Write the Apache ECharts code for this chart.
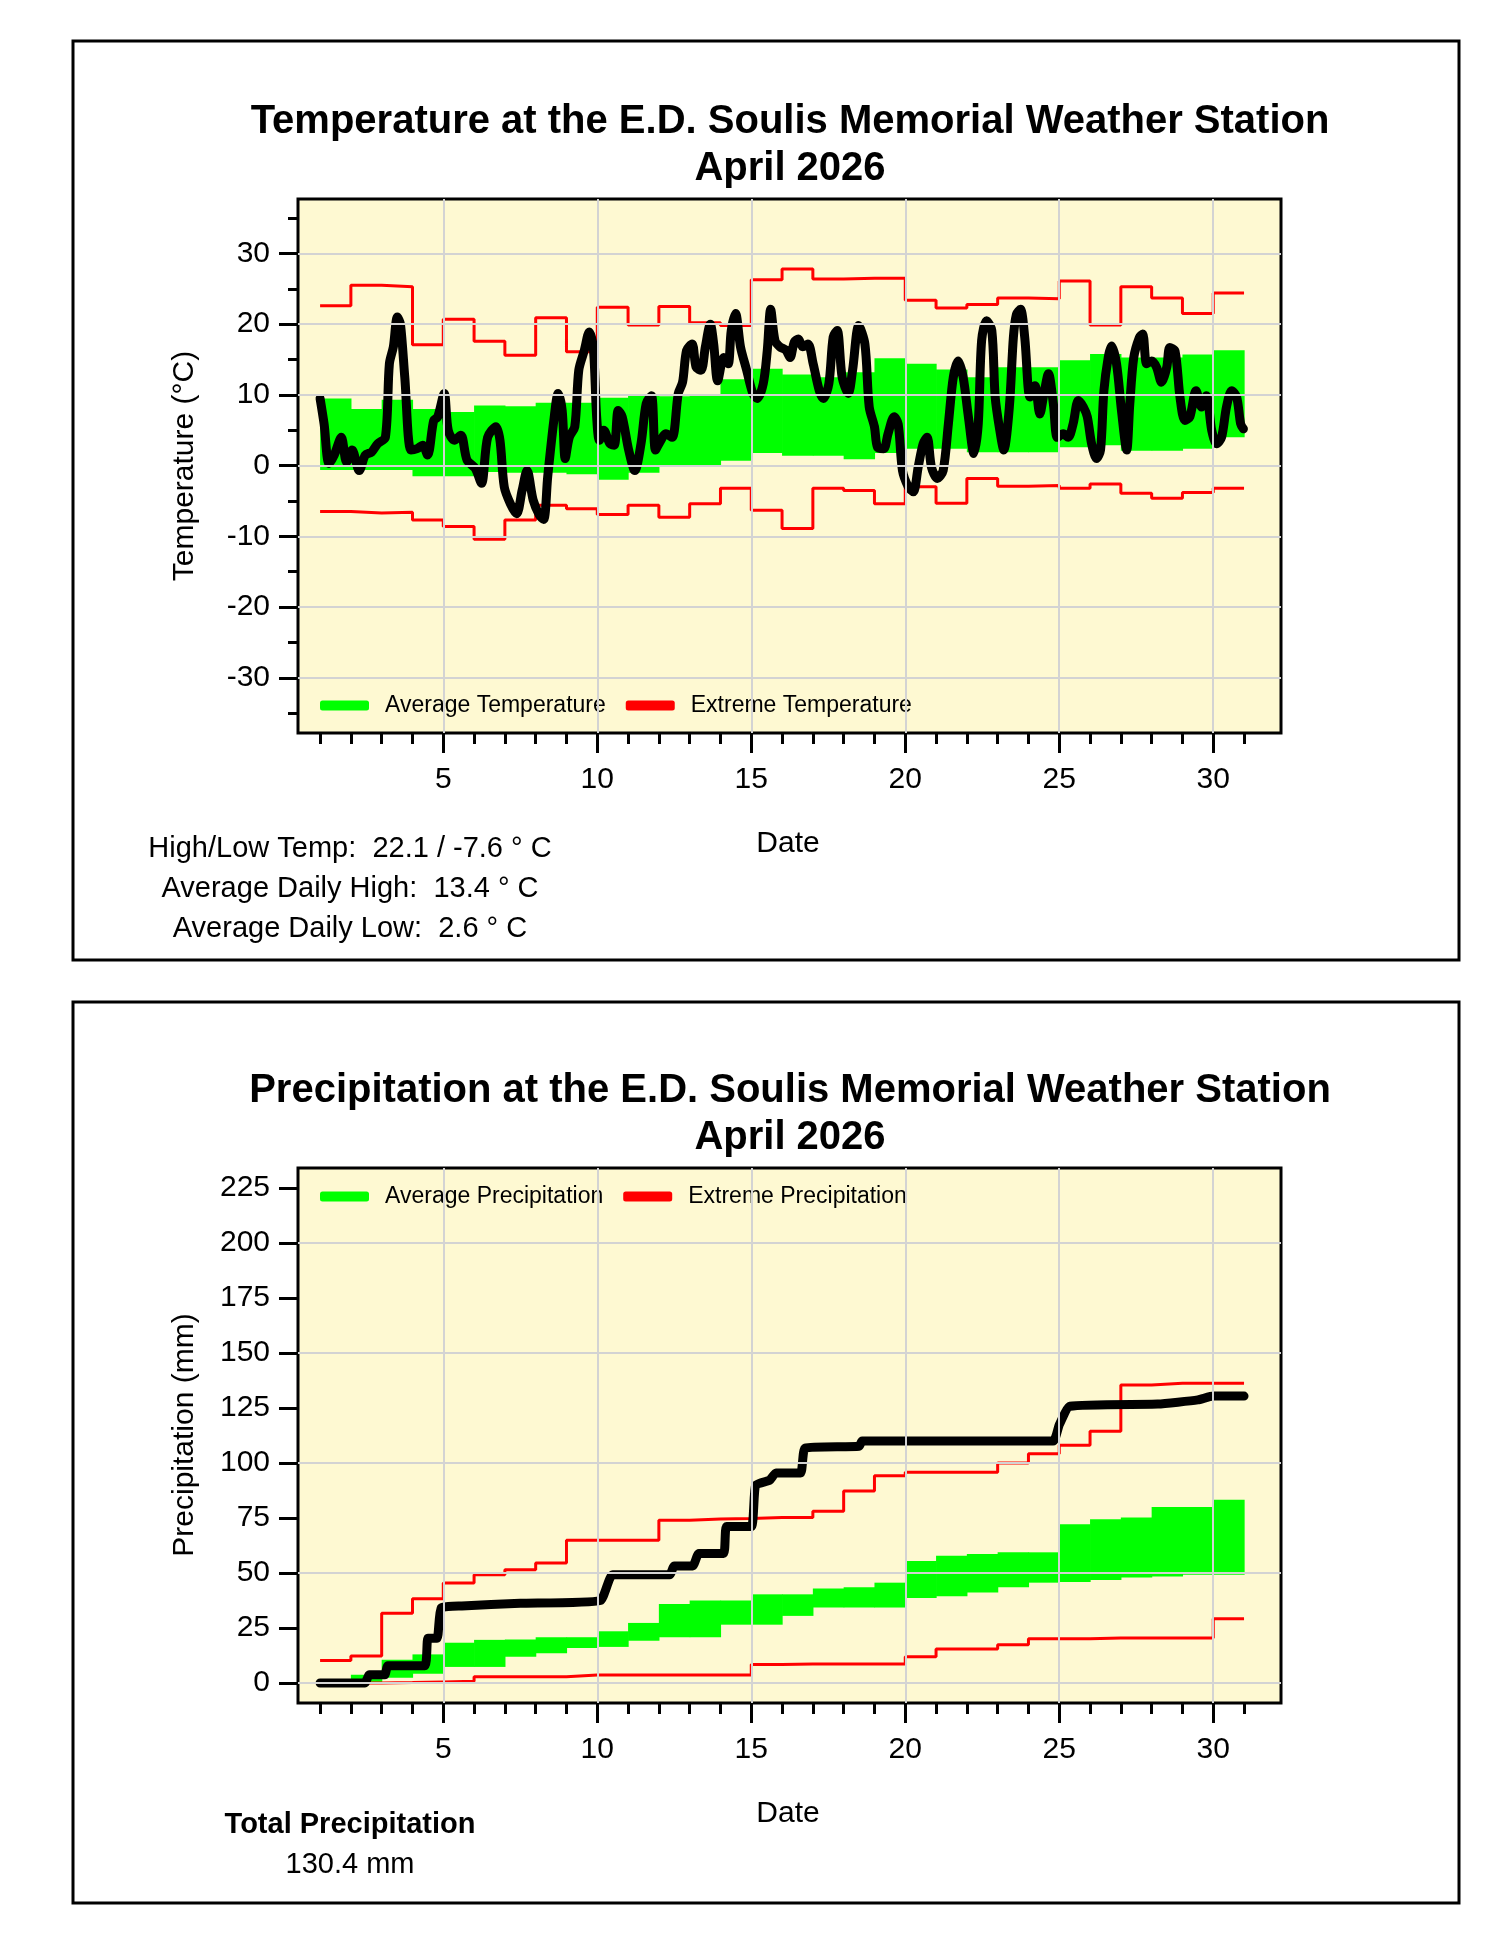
<!DOCTYPE html>
<html>
<head>
<meta charset="utf-8">
<script src="https://cdn.jsdelivr.net/npm/echarts@6/dist/echarts.min.js"></script>
<style>
html,body{margin:0;padding:0;background:#fff;}
#container{width:1500px;height:1941px;}
</style>
</head>
<body>
<div id="container"></div>
<script>
// ---- temperature data (per day, step from day d to d+1) ----
let avgHigh = [9.5,8.0,9.3,8.0,7.6,8.5,8.4,8.9,8.9,9.6,10.1,9.8,10.0,12.2,13.7,12.9,12.5,13.2,15.2,14.4,13.6,12.5,13.9,13.9,14.9,15.8,15.3,15.3,15.7,16.3];
let avgLow = [-0.6,-0.6,-0.6,-1.5,-1.5,-0.9,-1.0,-1.0,-1.2,-2.0,-1.0,-0.2,-0.1,0.7,1.8,1.4,1.4,0.9,1.8,2.4,2.4,1.9,1.9,1.9,2.6,2.9,2.1,2.1,2.4,4.0];
let extHigh = [22.6,25.5,25.3,17.1,20.7,17.6,15.6,20.9,16.1,22.4,19.9,22.5,20.2,19.8,26.3,27.8,26.4,26.5,26.5,23.4,22.3,22.8,23.7,23.6,26.1,19.9,25.3,23.7,21.5,24.4];
let extLow = [-6.5,-6.7,-6.6,-7.7,-8.6,-10.4,-7.7,-5.6,-6.1,-6.9,-5.6,-7.3,-5.4,-3.2,-6.3,-8.9,-3.2,-3.5,-5.4,-3.0,-5.3,-1.8,-2.9,-2.8,-3.2,-2.6,-3.9,-4.6,-3.8,-3.2];

// observed temperature (fractional day, deg C)
let tDays = [1.0,1.13,1.29,1.46,1.69,1.86,2.04,2.27,2.47,2.67,2.87,3.12,3.25,3.38,3.51,3.61,3.75,3.95,4.15,4.33,4.49,4.69,4.82,5.03,5.16,5.36,5.57,5.77,6.04,6.24,6.44,6.71,6.84,6.98,7.18,7.38,7.56,7.72,7.92,8.12,8.26,8.39,8.59,8.73,8.86,8.96,9.09,9.27,9.40,9.58,9.74,9.87,9.98,10.07,10.21,10.41,10.55,10.68,10.81,11.02,11.22,11.42,11.59,11.76,11.89,12.03,12.23,12.43,12.63,12.77,12.90,13.08,13.21,13.37,13.51,13.67,13.78,13.91,14.11,14.25,14.35,14.49,14.65,14.85,15.05,15.19,15.39,15.52,15.63,15.77,15.93,16.13,16.26,16.40,16.53,16.67,16.84,17.01,17.21,17.34,17.52,17.66,17.79,17.95,18.15,18.29,18.49,18.69,18.83,19.00,19.10,19.30,19.44,19.64,19.77,19.91,20.10,20.26,20.42,20.58,20.71,20.85,21.04,21.23,21.40,21.56,21.72,21.88,22.05,22.23,22.37,22.48,22.64,22.81,22.92,23.07,23.20,23.38,23.51,23.61,23.74,23.88,24.05,24.21,24.37,24.50,24.65,24.81,24.94,25.13,25.29,25.45,25.62,25.78,25.91,26.05,26.21,26.34,26.45,26.59,26.70,26.86,27.02,27.19,27.29,27.42,27.60,27.71,27.84,28.00,28.16,28.32,28.49,28.59,28.76,28.92,29.08,29.24,29.44,29.62,29.78,29.95,30.11,30.27,30.43,30.60,30.76,30.89,30.98];
let tVals = [9.5,5.9,0.3,1.5,4.0,0.5,2.2,-0.7,1.5,1.9,3.1,4.0,14.4,16.8,21.0,20.0,12.5,2.2,2.4,2.9,1.5,6.4,6.9,10.2,5.0,3.6,4.3,0.8,-0.4,-2.5,4.0,5.5,3.6,-3.0,-5.4,-6.8,-3.5,-0.7,-4.9,-7.0,-7.6,-1.6,6.4,10.2,7.8,1.0,4.0,5.5,13.5,16.3,18.9,16.8,6.9,3.6,5.0,3.1,2.9,7.8,6.9,2.2,-0.7,3.1,8.8,9.9,2.2,3.3,4.5,4.0,10.2,11.8,16.3,17.2,13.9,13.5,16.8,20.0,17.2,12.0,15.3,14.4,19.1,21.5,16.8,13.5,10.2,9.5,11.6,16.3,22.1,17.7,16.8,16.3,15.3,17.5,17.9,16.8,17.2,14.4,10.6,9.5,11.6,18.2,19.1,12.5,10.2,13.5,19.8,17.2,8.3,5.5,2.6,2.4,4.5,6.9,5.9,-0.7,-3.0,-3.7,-0.2,3.1,4.0,-0.2,-1.8,-0.7,5.9,12.5,14.8,12.5,6.9,1.7,5.9,17.7,20.5,19.1,9.7,5.0,2.2,8.3,18.1,21.4,22.1,18.1,9.7,11.3,7.3,10.1,13.0,8.7,4.0,4.5,4.0,5.9,9.2,8.3,6.9,3.1,1.0,2.2,10.6,15.3,16.9,14.4,7.8,2.2,8.7,15.3,18.1,18.6,14.4,14.8,13.9,11.8,13.9,16.7,16.2,9.7,6.4,6.9,10.6,8.3,9.9,5.0,3.1,4.0,8.3,10.6,9.7,5.9,5.2];

// ---- precipitation data (cumulative mm) ----
let pAvgHigh = [0.5,3.7,10.6,13.0,18.3,19.6,19.8,20.8,20.8,23.5,27.3,35.9,37.5,37.5,40.3,40.3,43.0,43.5,45.6,55.4,57.8,58.6,59.4,59.4,72.2,74.4,75.2,80.0,80.0,83.3];
let pAvgLow = [0,0.5,2.4,4.2,7.3,7.3,11.9,13.5,15.9,16.4,19.2,20.8,20.8,26.5,26.5,30.5,34.3,34.3,34.3,38.6,39.4,41.1,43.5,45.6,45.9,46.8,47.9,48.4,49.2,49.2];
let pExtHigh = [10.2,12.3,31.7,38.3,45.5,49.2,51.5,54.5,64.9,64.9,64.9,74.0,74.5,74.8,75.2,75.2,78.1,87.3,94.2,95.8,95.8,95.8,100,104.2,108.1,114.4,135.5,136.2,136.2,136.2];
let pExtLow = [0,0,0.2,0.5,0.8,2.8,2.8,2.8,3.6,3.6,3.6,3.6,3.6,3.6,8.4,8.6,8.6,8.6,8.6,11.9,15.4,15.4,17.4,20.1,20.1,20.5,20.5,20.5,20.5,29.2];
let pDays = [1.0,2.45,2.6,3.1,3.2,4.4,4.5,4.8,4.93,5.6,7.5,10.1,10.5,12.35,12.5,13.1,13.3,14.1,14.2,15.0,15.14,15.6,15.8,16.6,16.75,18.5,18.6,24.8,25.0,25.35,28.2,29.5,30.0,31.0];
let pVals = [0,0,3.7,3.7,7.8,7.8,20.3,20.3,34.1,35.0,36.2,37.5,49.2,49.2,53.2,53.2,58.9,58.9,71.1,71.1,89.8,92.2,95.5,95.5,106.8,107.6,110,110,117.4,125.8,126.8,128.7,130.4,130.4];

let majorDays = [5,10,15,20,25,30];
let allDays = [];
for (let d = 1; d <= 31; d++) allDays.push(d);
let tMajor = [-30,-20,-10,0,10,20,30];
let tMinor = [-35,-30,-25,-20,-15,-10,-5,0,5,10,15,20,25,30,35];
let pTicks = [0,25,50,75,100,125,150,175,200,225];
let pGrid = [0,50,100,150,200];

function stepData(vals){
    let out = vals.map((v,i) => [i+1, v]);
    out.push([31, vals[vals.length-1]]);
    return out;
}
function pairs(xs, ys){ return xs.map((x,i) => [x, ys[i]]); }

const FONT = 'Liberation Sans, Arial, sans-serif';
const GREEN = '#00ff00', RED = '#ff0000', GRIDC = '#d3d3d3', BG = '#fef9d2';
const X0 = 298, X1 = 1281;
const XMIN = 0.283, XMAX = 32.2;

let grids = [
    {left: X0, top: 199, width: X1-X0, height: 534},
    {left: X0, top: 1168, width: X1-X0, height: 535}
];

function xAxes(g){
    return [{
        type:'value', gridIndex:g, min:XMIN, max:XMAX, position:'bottom',
        axisLine:{show:false, onZero:false}, splitLine:{show:false},
        axisTick:{show:true, customValues:allDays, length:11, lineStyle:{color:'#000', width:3}},
        axisLabel:{show:false}
    },{
        type:'value', gridIndex:g, min:XMIN, max:XMAX, position:'bottom',
        axisLine:{show:false, onZero:false}, splitLine:{show:false},
        axisTick:{show:true, customValues:majorDays, length:20, lineStyle:{color:'#000', width:3}},
        axisLabel:{show:true, customValues:majorDays, margin:32, fontSize:30, color:'#000', fontFamily:FONT}
    }];
}

function yAxis(g, min, max, ticks, len, labels){
    return {
        type:'value', gridIndex:g, min:min, max:max, position:'left',
        axisLine:{show:false, onZero:false}, splitLine:{show:false},
        axisTick:{show:true, customValues:ticks, length:len, lineStyle:{color:'#000', width:3}},
        axisLabel: labels ? {show:true, customValues:ticks, margin:28, fontSize:30, color:'#000', fontFamily:FONT} : {show:false}
    };
}

let yAxes = [
    yAxis(0, -37.8, 37.7, tMinor, 10, false),
    yAxis(0, -37.8, 37.7, tMajor, 19, true),
    yAxis(1, -9.1, 234.1, pTicks, 19, true)
];

function gridLines(xi, yi, hVals){
    return {
        type:'line', xAxisIndex:xi, yAxisIndex:yi, data:[], z:1, silent:true,
        markLine:{
            silent:true, symbol:['none','none'], label:{show:false}, animation:false,
            lineStyle:{color:GRIDC, width:2, type:'solid'},
            data: majorDays.map(d => ({xAxis:d})).concat(hVals.map(v => ({yAxis:v})))
        }
    };
}

// average band: one rectangle per day, from that day's low to high
function band(xi, yi, low, high, name){
    return {
        type:'custom', name:name, xAxisIndex:xi, yAxisIndex:yi, z:2, silent:true,
        itemStyle:{color:GREEN},
        encode:{x:0, y:[1,2]},
        data: low.map((l,i) => [i+1, l, high[i]]),
        renderItem: function(params, api){
            let d = api.value(0);
            let p0 = api.coord([d, api.value(2)]);
            let p1 = api.coord([d+1, api.value(1)]);
            return {type:'rect', shape:{x:p0[0], y:p0[1], width:p1[0]-p0[0]+0.6, height:p1[1]-p0[1]},
                    style:{fill:GREEN}};
        }
    };
}

function redLine(xi, yi, vals, name){
    return {
        type:'line', name:name, xAxisIndex:xi, yAxisIndex:yi, step:'end', symbol:'none',
        lineStyle:{color:RED, width:3}, itemStyle:{color:RED}, z:3, silent:true,
        data: stepData(vals)
    };
}

let series = [
    gridLines(1, 1, tMajor),
    band(1, 1, avgLow, avgHigh, 'Average Temperature'),
    redLine(1, 1, extHigh, 'Extreme Temperature'),
    redLine(1, 1, extLow, 'Extreme Temperature'),
    {
        type:'line', name:'Temp', xAxisIndex:1, yAxisIndex:1, symbol:'none', smooth:0.3,
        lineStyle:{color:'#000', width:9, cap:'round', join:'round'}, z:4, silent:true,
        data: pairs(tDays, tVals)
    },
    gridLines(3, 2, pGrid),
    band(3, 2, pAvgLow, pAvgHigh, 'Average Precipitation'),
    redLine(3, 2, pExtHigh, 'Extreme Precipitation'),
    redLine(3, 2, pExtLow, 'Extreme Precipitation'),
    {
        type:'line', name:'Precip', xAxisIndex:3, yAxisIndex:2, symbol:'none', smooth:0.15,
        lineStyle:{color:'#000', width:9, cap:'round', join:'round'}, z:4, silent:true,
        data: pairs(pDays, pVals)
    }
];

function legend(top, names){
    return {
        left:315, top:top, orient:'horizontal', icon:'roundRect', itemWidth:49, itemHeight:10, itemGap:20,
        selectedMode:false,
        textStyle:{fontSize:23, color:'#000', fontFamily:FONT, padding:[0,0,0,11]},
        data: [{name:names[0], itemStyle:{color:GREEN, borderWidth:0}},
               {name:names[1], itemStyle:{color:RED, borderWidth:0}}]
    };
}

// text placed by baseline (bottom of box minus descender)
function txt(x, y, s, size, bold){
    return {
        type:'text', x:x, y:y + Math.round(size*0.22),
        style:{text:s, fill:'#000', fontSize:size, fontWeight:bold ? 'bold' : 'normal',
               fontFamily:FONT, align:'center', verticalAlign:'bottom'}
    };
}
function vtxt(x, y, s, size){
    return {
        type:'text', x:x, y:y, rotation:Math.PI/2,
        style:{text:s, fill:'#000', fontSize:size, fontFamily:FONT, align:'center', verticalAlign:'middle'}
    };
}

let graphic = [
    {type:'rect', shape:{x:73, y:41, width:1386, height:919}, style:{fill:null, stroke:'#000', lineWidth:3}},
    {type:'rect', shape:{x:73, y:1002, width:1386, height:901}, style:{fill:null, stroke:'#000', lineWidth:3}},
    txt(790, 133, 'Temperature at the E.D. Soulis Memorial Weather Station', 40, true),
    txt(790, 180, 'April 2026', 40, true),
    txt(790, 1102, 'Precipitation at the E.D. Soulis Memorial Weather Station', 40, true),
    txt(790, 1149, 'April 2026', 40, true),
    txt(788, 852, 'Date', 30, false),
    txt(788, 1822, 'Date', 30, false),
    vtxt(185, 466, 'Temperature (°C)', 30),
    vtxt(185, 1435, 'Precipitation (mm)', 30),
    txt(350, 857, 'High/Low Temp:  22.1 / -7.6 ° C', 29, false),
    txt(350, 897, 'Average Daily High:  13.4 ° C', 29, false),
    txt(350, 937, 'Average Daily Low:  2.6 ° C', 29, false),
    txt(350, 1833, 'Total Precipitation', 29, true),
    txt(350, 1873, '130.4 mm', 29, false)
];

let chart = echarts.init(document.getElementById('container'), null, {renderer:'canvas'});
chart.setOption({
    animation:false,
    backgroundColor:'#fff',
    grid: grids.map(g => Object.assign({show:true, backgroundColor:BG, borderColor:'#000', borderWidth:3}, g)),
    xAxis: xAxes(0).concat(xAxes(1)),
    yAxis: yAxes,
    legend: [legend(689, ['Average Temperature','Extreme Temperature']),
             legend(1180, ['Average Precipitation','Extreme Precipitation'])],
    graphic: graphic,
    series: series
});
</script>
</body>
</html>
